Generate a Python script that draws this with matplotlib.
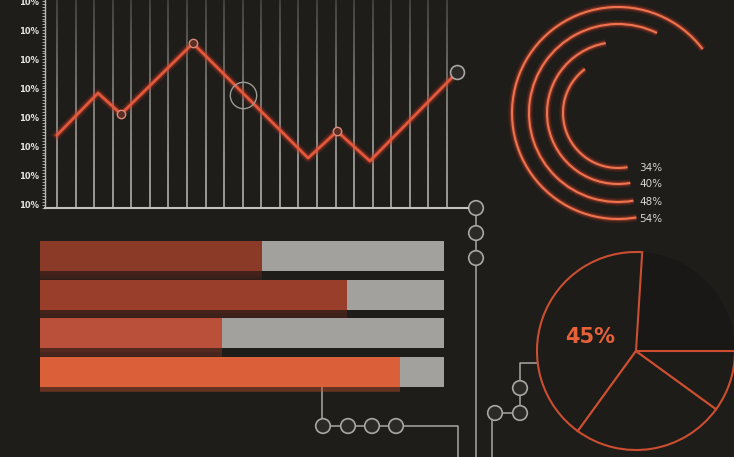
import numpy as np
import matplotlib
matplotlib.use("Agg")
import matplotlib.pyplot as plt
from matplotlib.patches import Arc, Circle
from matplotlib.collections import LineCollection

# ---------------- data ----------------
line_x = [0, 2.21, 3.45, 7.32, 13.52, 15.08, 16.85, 21.54]
line_y = [2.40, 3.84, 3.12, 5.55, 1.61, 2.53, 1.51, 4.55]
marked_idx = [2, 3, 5]
focus_x = [10.0]
focus_y = [3.77]
y_ticks = [0, 1, 2, 3, 4, 5, 6, 7]
y_tick_labels = ["10%", "10%", "10%", "10%", "10%", "10%", "10%", "10%"]
n_grid = 22

bar_values = [55, 76, 45, 89]
bar_total = 100

ring_values = [34, 40, 48, 54]
ring_labels = ["34%", "40%", "48%", "54%"]

pie_values = [24, 41, 25, 10]
pie_label = "45%"

# ---------------- style ----------------
BG = "#1E1D1A"
GRAY = "#A9A7A2"
ORANGE = "#E4593B"
W, H = 734, 457

fig = plt.figure(figsize=(W / 100, H / 100), dpi=100, facecolor=BG)


def px_box(x0, y0, x1, y1):
    return [x0 / W, 1 - y1 / H, (x1 - x0) / W, (y1 - y0) / H]


# ---------------- decoration / connectors ----------------
axd = fig.add_axes([0, 0, 1, 1])
axd.set_xlim(0, W)
axd.set_ylim(H, 0)
axd.axis("off")
axd.set_facecolor("none")

conn_kw = dict(color=GRAY, lw=1.1, zorder=1, solid_capstyle="butt")
axd.plot([322, 322], [387, 426], **conn_kw)
axd.plot([322, 458, 458], [426, 426, H], **conn_kw)
axd.plot([476, 476], [208, H], **conn_kw)
axd.plot([538, 520, 520, 495], [363, 363, 413, 413], **conn_kw)
axd.plot([492, 492], [413, H], **conn_kw)
for cx, cy in [(323, 426), (348, 426), (372, 426), (396, 426),
               (476, 208), (476, 233), (476, 258),
               (520, 388), (520, 413), (495, 413)]:
    axd.add_patch(Circle((cx, cy), 7.3, facecolor="#2B2A27", edgecolor=GRAY,
                         lw=1.2, zorder=2))

# ---------------- line chart ----------------
ax = fig.add_axes(px_box(45, 0, 468, 208))
ax.set_facecolor("none")
ax.set_xlim(-0.646, 22.13)
ax.set_ylim(-0.103, 7.035)

# fading vertical grid lines
gx = np.arange(n_grid)
ys = np.linspace(-0.103, 7.035, 41)
segs, cols = [], []
for x in gx:
    for i in range(len(ys) - 1):
        segs.append([(x, ys[i]), (x, ys[i + 1])])
        a = 0.85 - 0.6 * (i / (len(ys) - 2)) ** 1.5
        cols.append((0.80, 0.79, 0.76, a))
ax.add_collection(LineCollection(segs, colors=cols, linewidths=1.2, zorder=1))

# glow + line
ax.plot(line_x, line_y, color="#B0301E", lw=6, alpha=0.25, zorder=2)
ax.plot(line_x, line_y, color="#D9452C", lw=3.5, alpha=0.35, zorder=2)
ax.plot(line_x, line_y, color=ORANGE, lw=1.9, zorder=3)
ax.plot([line_x[i] for i in marked_idx], [line_y[i] for i in marked_idx],
        ls="none", marker="o", ms=6, mfc="#5A2E24", mec="#D98B78", mew=1,
        zorder=4)
ax.plot(line_x[-1:], line_y[-1:], ls="none", marker="o", ms=10, mfc="#2B2A27",
        mec=GRAY, mew=1.2, zorder=4)
ax.plot(focus_x, focus_y, ls="none", marker="o", ms=19, mfc="none",
        mec="#9C9A95", mew=1.0, zorder=4)

for s in ["top", "right"]:
    ax.spines[s].set_visible(False)
ax.spines["left"].set_color("#BDBBB6")
ax.spines["left"].set_linewidth(1.0)
ax.spines["bottom"].set_color("#C4C2BD")
ax.spines["bottom"].set_linewidth(1.5)
ax.set_xticks([])
ax.set_yticks(y_ticks)
ax.set_yticklabels(y_tick_labels, fontsize=6, fontweight="bold",
                   color="#E6E4E0")
ax.set_yticks(np.arange(-0.1, 7.04, 0.1), minor=True)
ax.tick_params(axis="y", which="both", length=2.5, width=0.6,
               color="#BDBBB6", pad=1.5)

# ---------------- bars ----------------
axb = fig.add_axes(px_box(40, 236, 444, 392))
axb.set_facecolor("none")
axb.set_xlim(0, bar_total)
axb.set_ylim(3.514, -0.517)
axb.axis("off")
pos = np.arange(len(bar_values))
bar_colors = ["#8C3A28", "#983E2B", "#BA503A", "#DB5F38"]
glow_colors = ["#7A2C1C", "#82301F", "#9E3B25", "#C9502C"]
hgt = 0.775
axb.barh(pos, [bar_total] * len(pos), height=hgt, color="#A3A19D", zorder=2)
for k in range(1, 5):
    axb.barh(pos + 0.05 * k, bar_values, height=hgt + 0.09 * k,
             color=glow_colors, alpha=0.13, zorder=1, lw=0)
axb.barh(pos, bar_values, height=hgt, color=bar_colors, zorder=3)

# ---------------- rings ----------------
axr = fig.add_axes(px_box(500, 0, 734, 235))
axr.set_facecolor("none")
axr.set_xlim(-118, 116)
axr.set_ylim(-122, 113)
axr.axis("off")
radii = [55, 71, 89, 106]
end_angle = 280
for v, r, lab in zip(ring_values, radii, ring_labels):
    span = v / 80 * 360
    for lw, col, al in [(5.5, "#B3301E", 0.22), (3.2, "#D44A30", 0.35),
                        (1.5, "#EE7450", 1.0)]:
        axr.add_patch(Arc((0, 0), 2 * r, 2 * r, theta1=end_angle - span,
                          theta2=end_angle, color=col, lw=lw, alpha=al))
    axr.text(21, -r, lab, fontsize=7.5, color="#D8D4CE", ha="left",
             va="center")

# ---------------- pie ----------------
axp = fig.add_axes(px_box(535, 250, 737, 452))
axp.set_facecolor("none")
wedges, _ = axp.pie(pie_values, radius=1, startangle=0, counterclock=True,
                    colors=["#191816", "#1D1C19", "#1D1C19", "#1D1C19"],
                    wedgeprops=dict(edgecolor="#CB4E31", linewidth=1.5))
wedges[0].set_edgecolor("none")
for w in wedges:
    w.set_clip_on(False)
axp.set_xlim(-1.02, 1.02)
axp.set_ylim(-1.02, 1.02)
axp.text(-0.46, 0.14, pie_label, fontsize=15, fontweight="bold",
         color="#E5613A", ha="center", va="center")

fig.savefig("out.png", dpi=100, facecolor=BG)
